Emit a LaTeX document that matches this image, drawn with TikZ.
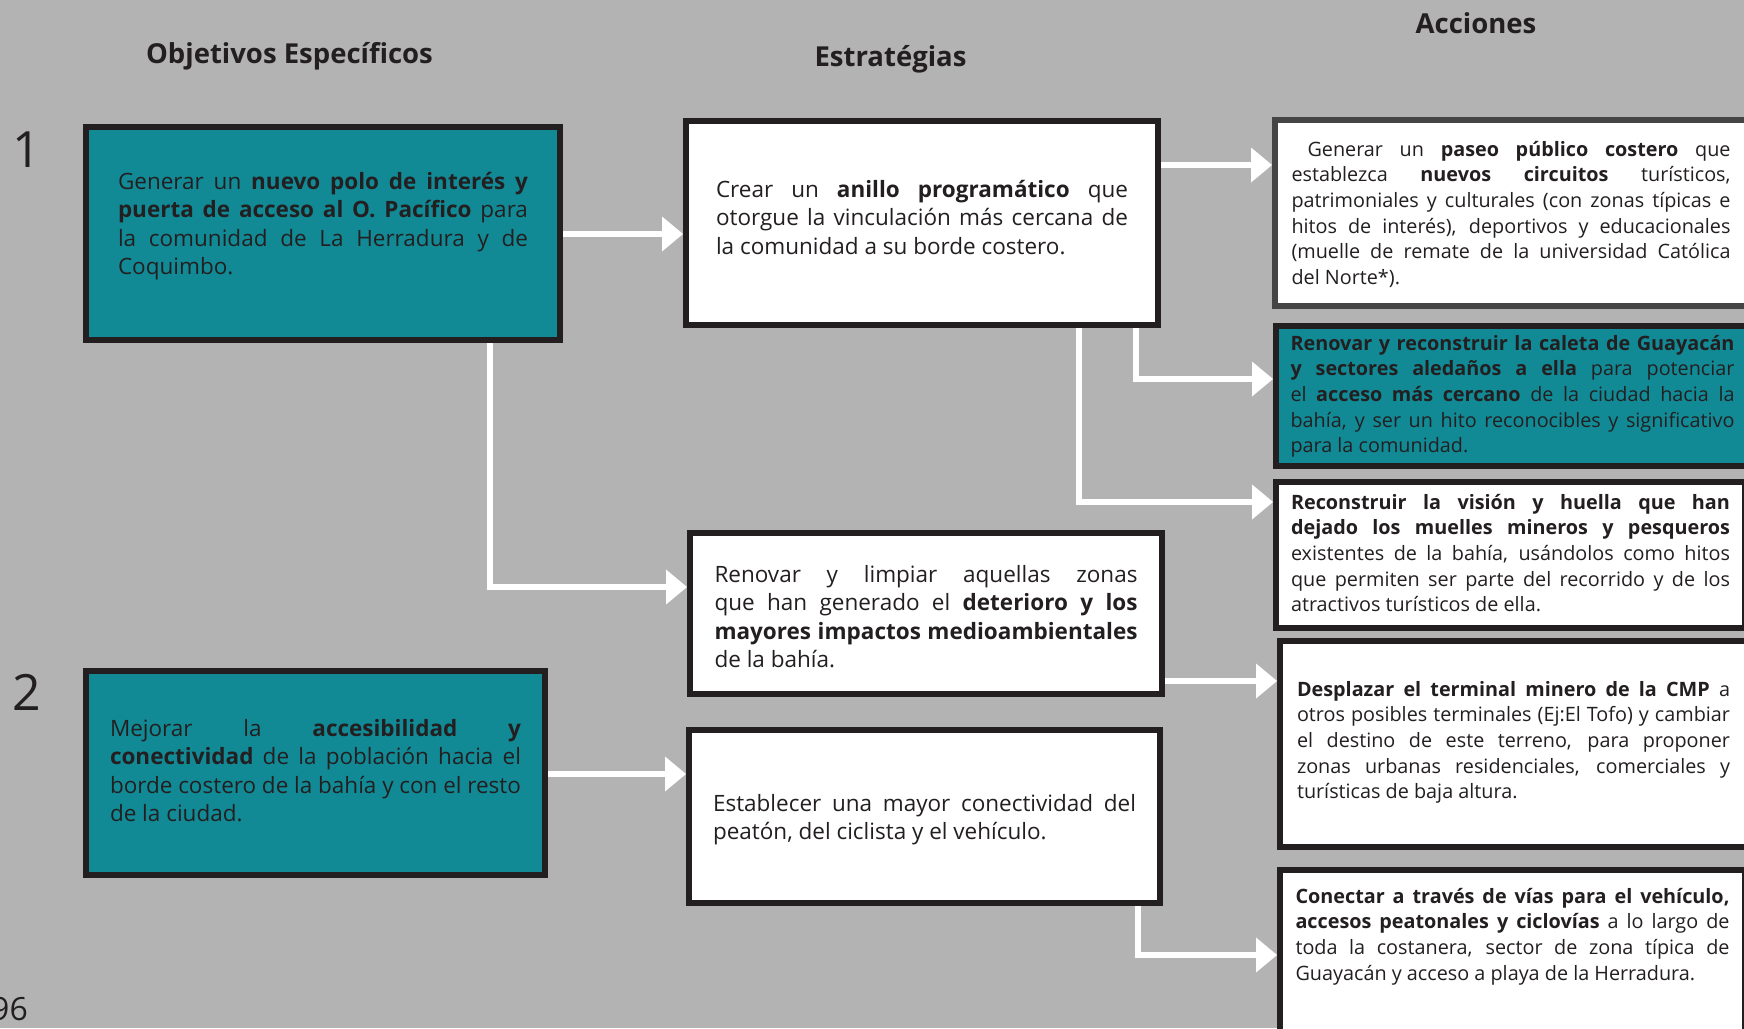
\documentclass[tikz,border=0pt]{standalone}
\usepackage{fontspec}
\setmainfont{Open Sans}
\usetikzlibrary{arrows.meta}

\definecolor{bggray}{HTML}{B3B3B3}
\definecolor{boxteal}{RGB}{17,138,150}
\definecolor{ink}{HTML}{231F20}
\definecolor{edgegray}{HTML}{454545}

% font sizes (1pt = 1px of the page)
\newcommand{\bodyfont}{\fontsize{22.5}{28.5}\selectfont}
\newcommand{\actfont}{\fontsize{19.8}{25.7}\selectfont}
\newcommand{\titlefont}{\fontsize{27.5}{30}\selectfont\bfseries}
\hyphenpenalty=10000

\begin{document}
\begin{tikzpicture}[x=1pt,y=-1pt]
  % Styles
  \tikzset{
    box/.style={draw=ink, line width=6pt, fill=white, anchor=north west,
      inner sep=0pt, align=justify, text=ink},
    goalbox/.style={box, fill=boxteal, font=\bodyfont},
    stratbox/.style={box, font=\bodyfont},
    actbox/.style={box, font=\actfont},
    link/.style={draw=white, line width=6.5pt,
      -{Triangle[width=35pt,length=21pt,line width=0pt]}},
    heading/.style={font=\titlefont, text=ink, anchor=base, inner sep=0pt},
    num/.style={font=\fontsize{50}{50}\selectfont, text=ink, anchor=base, inner sep=0pt}
  }

  % Page
  \clip (0,0) rectangle (1744,1028);
  \fill[bggray] (0,0) rectangle (1744,1028);

  % Column headings
  \node[heading] (hobj) at (289.5,63) {Objetivos Específicos};
  \node[heading] (hest) at (890.5,66) {Estratégias};
  \node[heading] (hacc) at (1476,33) {Acciones};

  % Numbers
  \node[num] (n1) at (27,167) {1};
  \node[num] (n2) at (27,710) {2};
  \node[num, anchor=base east, font=\fontsize{32}{32}\selectfont] (page) at (28,1020) {96};

  % Objetivos
  \node[goalbox, minimum width=474pt, minimum height=213pt, text width=410pt,
    text height=2.5pt, text depth=91.5pt] (o1) at (83,124)
    {Generar un \textbf{nuevo polo de interés y}\linebreak
     \textbf{puerta de acceso al O. Pacífico} para\linebreak
     la comunidad de La Herradura y de\linebreak
     Coquimbo.};
  \node[goalbox, minimum width=459pt, minimum height=204pt, text width=411pt,
    text height=17.5pt, text depth=91.5pt] (o2) at (83,668)
    {Mejorar la \textbf{accesibilidad y}\linebreak
     \textbf{conectividad} de la población hacia el\linebreak
     borde costero de la bahía y con el resto\linebreak
     de la ciudad.};

  % Estrategias
  \node[stratbox, minimum width=472pt, minimum height=204pt, text width=412pt,
    text height=11pt, text depth=63pt] (e1) at (683,118)
    {Crear un \textbf{anillo programático} que\linebreak
     otorgue la vinculación más cercana de\linebreak
     la comunidad a su borde costero.};
  \node[stratbox, minimum width=472pt, minimum height=161pt, text width=423pt,
    text height=28.5pt, text depth=91.5pt] (e2) at (687,530)
    {Renovar y limpiar aquellas zonas\linebreak
     que han generado el \textbf{deterioro y los}\linebreak
     \textbf{mayores impactos medioambientales}\linebreak
     de la bahía.};
  \node[stratbox, minimum width=471pt, minimum height=173pt, text width=423pt,
    text height=23.5pt, text depth=34.5pt] (e3) at (686,727)
    {Establecer una mayor conectividad del\linebreak
     peatón, del ciclista y el vehículo.};

  % Acciones
  \node[actbox, draw=edgegray, minimum width=472pt, minimum height=186pt, text width=439pt,
    text height=19.5pt, text depth=133.5pt] (a1) at (1272,117)
    {\hspace*{16pt}Generar un \textbf{paseo público costero} que\linebreak
     establezca \textbf{nuevos circuitos} turísticos,\linebreak
     patrimoniales y culturales (con zonas típicas e\linebreak
     hitos de interés), deportivos y educacionales\linebreak
     (muelle de remate de la universidad Católica\linebreak
     del Norte*).};
  \node[actbox, fill=boxteal, minimum width=473pt, minimum height=140pt, text width=444pt,
    text height=15.8pt, text depth=107.8pt] (a2) at (1273,323)
    {\textbf{Renovar y reconstruir la caleta de Guayacán}\linebreak
     \textbf{y sectores aledaños a ella} para potenciar\linebreak
     el \textbf{acceso más cercano} de la ciudad hacia la\linebreak
     bahía, y ser un hito reconocibles y significativo\linebreak
     para la comunidad.};
  \node[actbox, minimum width=469pt, minimum height=146pt, text width=439pt,
    text height=15.8pt, text depth=107.8pt] (a3) at (1273,479)
    {\textbf{Reconstruir la visión y huella que han}\linebreak
     \textbf{dejado los muelles mineros y pesqueros}\linebreak
     existentes de la bahía, usándolos como hitos\linebreak
     que permiten ser parte del recorrido y de los\linebreak
     atractivos turísticos de ella.};
  \node[actbox, minimum width=467pt, minimum height=206pt, text width=433pt,
    text height=11.8pt, text depth=107.8pt] (a4) at (1277,638)
    {\textbf{Desplazar el terminal minero de la CMP} a\linebreak
     otros posibles terminales (Ej:El Tofo) y cambiar\linebreak
     el destino de este terreno, para proponer\linebreak
     zonas urbanas residenciales, comerciales y\linebreak
     turísticas de baja altura.};
  \node[actbox, minimum width=465pt, minimum height=187pt, text width=434pt,
    text height=29pt, text depth=150pt] (a5) at (1277,867)
    {\textbf{Conectar a través de vías para el vehículo,}\linebreak
     \textbf{accesos peatonales y ciclovías} a lo largo de\linebreak
     toda la costanera, sector de zona típica de\linebreak
     Guayacán y acceso a playa de la Herradura.};

  % Connectors
  \draw[link] (o1.east |- 0,234) -- (e1.west |- 0,234);
  \draw[link] (o1.south -| 490,0) |- (e2.west |- 0,587);
  \draw[link] (o2.east |- 0,774) -- (e3.west |- 0,774);
  \draw[link] (e1.east |- 0,165) -- (a1.west |- 0,165);
  \draw[link] (e1.south -| 1136,0) |- (a2.west |- 0,379);
  \draw[link] (e1.south -| 1079,0) |- (a3.west |- 0,502);
  \draw[link] (e2.east |- 0,681) -- (a4.west |- 0,681);
  \draw[link] (e3.south -| 1138,0) |- (a5.west |- 0,955);

\end{tikzpicture}
\end{document}
